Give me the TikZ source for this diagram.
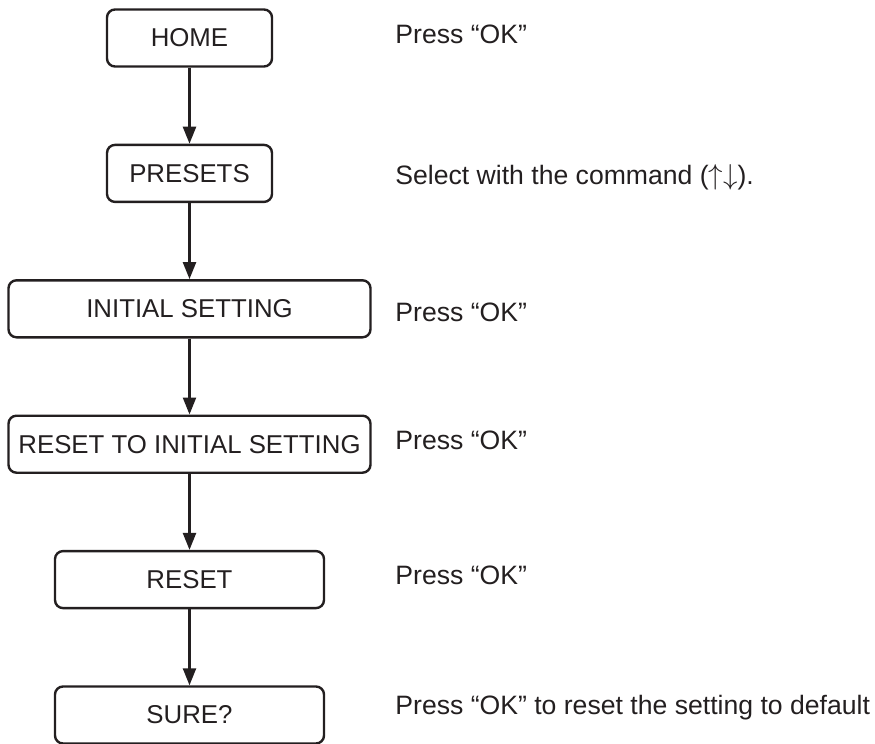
\documentclass[tikz,border=0pt]{standalone}
\usepackage{fontspec}
\setmainfont{Liberation Sans}
\usetikzlibrary{positioning,arrows.meta}
\definecolor{Ink}{HTML}{231F20}

\begin{document}
\begin{tikzpicture}[node distance=38pt,
  every node/.style={font=\fontsize{12.9pt}{15pt}\selectfont,text=Ink},
  menu/.style={draw=Ink,line width=1.2pt,rounded corners=4pt,minimum height=28.5pt,inner sep=4pt},
  hint/.style={anchor=base west,inner sep=0pt,font=\fontsize{13.3pt}{15pt}\selectfont},
  flow/.style={-{Triangle[length=8.5pt,width=6.5pt]},line width=1.2pt,draw=Ink}]
  \useasboundingbox (0,0) rectangle (437.5pt,-372pt);
  \node[menu,minimum width=82.5pt] (home) at (94.75pt,-19pt) {HOME};
  \node[menu,minimum width=82.5pt,below=of home] (presets) {PRESETS};
  \node[menu,minimum width=181pt,below=of presets] (initial) {INITIAL SETTING};
  \node[menu,minimum width=181pt,below=of initial] (restore) {RESET TO INITIAL SETTING};
  \node[menu,minimum width=134.5pt,below=of restore] (reset) {RESET};
  \node[menu,minimum width=134.5pt,below=of reset] (sure) {SURE?};
  % what to do at each step
  \coordinate (col) at (197.5pt,0);
  \node[hint,yshift=-2.5pt] (t1) at (col |- home) {Press “OK”};
  \node[hint,yshift=-5.75pt] (t2) at (col |- presets) {Select with the command ($\uparrow\downarrow$).};
  \node[hint,yshift=-6.5pt] (t3) at (col |- initial) {Press “OK”};
  \node[hint,yshift=-2.5pt] (t4) at (col |- restore) {Press “OK”};
  \node[hint,yshift=-2.25pt] (t5) at (col |- reset) {Press “OK”};
  \node[hint,yshift=0.5pt] (t6) at (col |- sure) {Press “OK” to reset the setting to default};
  \draw[flow] (home) -- (presets);
  \draw[flow] (presets) -- (initial);
  \draw[flow] (initial) -- (restore);
  \draw[flow] (restore) -- (reset);
  \draw[flow] (reset) -- (sure);
\end{tikzpicture}
\end{document}
